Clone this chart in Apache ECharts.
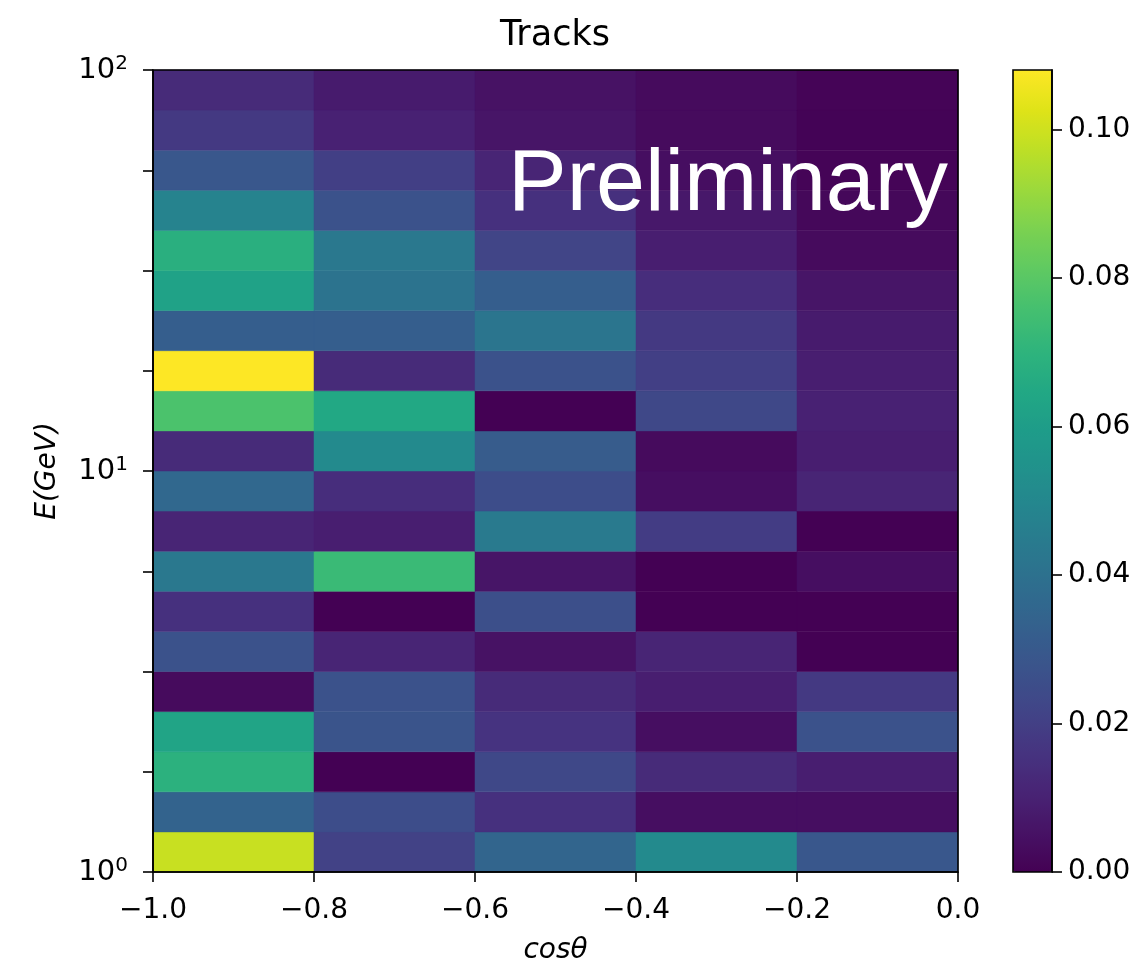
<!DOCTYPE html>
<html>
<head>
<meta charset="utf-8">
<title>Tracks</title>
<script src="https://cdn.jsdelivr.net/npm/echarts@6/dist/echarts.min.js"></script>
<style>
    html, body { margin: 0; padding: 0; background: #fff; }
    #chart { width: 1142px; height: 966px; }
</style>
</head>
<body>
<div id="chart"></div>
<script>
// bin edges
const cos_edges = [-1.0, -0.8, -0.6, -0.4, -0.2, 0.0]
const log_e_edges = [0.0, 0.1, 0.2, 0.3, 0.4, 0.5, 0.6, 0.7, 0.8, 0.9, 1.0,
                     1.1, 1.2, 1.3, 1.4, 1.5, 1.6, 1.7, 1.8, 1.9, 2.0]

// fraction per energy bin (low E -> high E), one array per cos(theta) bin
const frac_cos_m10 = [0.099, 0.034, 0.069, 0.063, 0.003, 0.027, 0.015, 0.043, 0.011, 0.036,
                      0.013, 0.077, 0.108, 0.032, 0.062, 0.068, 0.048, 0.029, 0.018, 0.013]
const frac_cos_m08 = [0.021, 0.025, 0.000, 0.028, 0.027, 0.011, 0.000, 0.073, 0.009, 0.014,
                      0.051, 0.065, 0.013, 0.032, 0.041, 0.043, 0.027, 0.020, 0.010, 0.008]
const frac_cos_m06 = [0.035, 0.015, 0.023, 0.016, 0.013, 0.005, 0.026, 0.006, 0.044, 0.025,
                      0.031, 0.000, 0.027, 0.042, 0.032, 0.022, 0.015, 0.011, 0.006, 0.005]
const frac_cos_m04 = [0.051, 0.004, 0.013, 0.004, 0.009, 0.011, 0.000, 0.000, 0.019, 0.004,
                      0.003, 0.023, 0.020, 0.018, 0.014, 0.009, 0.007, 0.004, 0.003, 0.003]
const frac_cos_m02 = [0.029, 0.004, 0.009, 0.027, 0.018, 0.000, 0.000, 0.004, 0.000, 0.011,
                      0.009, 0.010, 0.009, 0.008, 0.006, 0.003, 0.002, 0.001, 0.0005, 0.001]

const colorbar_ticks = [0.00, 0.02, 0.04, 0.06, 0.08, 0.10]
const colorbar_max = 0.108

const viridis = ['#440154', '#471365', '#482475', '#463480', '#414487', '#3b528b', '#355f8d',
                 '#2f6c8e', '#2a788e', '#25848e', '#21918c', '#1e9c89', '#22a884', '#2fb47c',
                 '#44bf70', '#5ec962', '#7ad151', '#9bd93c', '#bddf26', '#dfe318', '#fde725']

const columns = [frac_cos_m10, frac_cos_m08, frac_cos_m06, frac_cos_m04, frac_cos_m02]
let cells = []
for (let c = 0; c < columns.length; c++) {
    for (let r = 0; r < columns[c].length; r++) {
        cells.push([cos_edges[c], cos_edges[c + 1], log_e_edges[r], log_e_edges[r + 1], columns[c][r]])
    }
}

const font = '"DejaVu Sans"'
const minus = v => (v < -1e-9 ? '\u2212' : '') + Math.abs(v).toFixed(1)

const renderCell = (params, api) => {
    const p0 = api.coord([api.value(0), api.value(3)])
    const p1 = api.coord([api.value(1), api.value(2)])
    const color = api.visual('color')
    return {
        type: 'rect',
        shape: { x: p0[0], y: p0[1], width: p1[0] - p0[0], height: p1[1] - p0[1] },
        style: { fill: color, stroke: color, lineWidth: 0.5 }
    }
}

const chart = echarts.init(document.getElementById('chart'))
const option = {
    backgroundColor: '#fff',
    animation: false,
    textStyle: { fontFamily: font },
    grid: [
        { left: 153, top: 70, width: 805, height: 802, show: true, z: 10, outerBoundsMode: 'none',
          containLabel: false, borderColor: '#000', borderWidth: 1.6, backgroundColor: 'transparent' },
        { left: 1013, top: 70, width: 39, height: 802, show: true, z: 10, outerBoundsMode: 'none',
          containLabel: false, borderColor: '#000', borderWidth: 1.6, backgroundColor: 'transparent' }
    ],
    xAxis: [
        {
            type: 'value', gridIndex: 0, min: -1, max: 0, interval: 0.2, z: 10,
            name: 'cos\u03b8', nameLocation: 'middle', nameGap: 65,
            nameTextStyle: { fontSize: 28, fontStyle: 'italic', color: '#000', fontFamily: font },
            axisLine: { show: true, onZero: false, lineStyle: { color: '#000', width: 1.6 } },
            axisTick: { show: true, length: 10, lineStyle: { color: '#000', width: 1.6 } },
            axisLabel: { fontSize: 28, color: '#000', margin: 25, formatter: minus },
            splitLine: { show: false }
        },
        { type: 'value', gridIndex: 1, min: 0, max: 1, show: false }
    ],
    yAxis: [
        {
            type: 'value', gridIndex: 0, min: 0, max: 2, interval: 0.25, z: 10,
            name: 'E(GeV)', nameLocation: 'middle', nameGap: 91,
            nameTextStyle: { fontSize: 28, fontStyle: 'italic', color: '#000', fontFamily: font },
            axisLine: { show: true, onZero: false, lineStyle: { color: '#000', width: 1.6 } },
            axisTick: { show: true, length: 10, lineStyle: { color: '#000', width: 1.6 } },
            axisLabel: {
                margin: 25,
                formatter: v => Math.abs(v - Math.round(v)) < 1e-6 ? '{b|10}{s|' + Math.round(v) + '}' : '',
                rich: {
                    b: { fontSize: 29, lineHeight: 32, color: '#000', fontFamily: font },
                    s: { fontSize: 20, verticalAlign: 'top', color: '#000', fontFamily: font }
                }
            },
            splitLine: { show: false }
        },
        {
            type: 'value', gridIndex: 1, position: 'right', min: 0, max: colorbar_max, z: 10,
            axisLine: { show: true, onZero: false, lineStyle: { color: '#000', width: 1.6 } },
            axisTick: { show: true, length: 10, customValues: colorbar_ticks,
                        lineStyle: { color: '#000', width: 1.6 } },
            axisLabel: { fontSize: 28, color: '#000', margin: 16, customValues: colorbar_ticks,
                         formatter: v => v.toFixed(2) },
            splitLine: { show: false }
        }
    ],
    visualMap: {
        type: 'continuous', min: 0, max: colorbar_max, dimension: 4, seriesIndex: 0,
        calculable: false, hoverLink: false, orient: 'vertical', padding: 0,
        left: 1013, top: 70, itemWidth: 39, itemHeight: 802,
        inRange: { color: viridis }
    },
    graphic: [
        { type: 'text', x: 555, y: 36, z: 20,
          style: { text: 'Tracks', font: '35px ' + font, fill: '#000',
                   align: 'center', verticalAlign: 'middle', textAlign: 'center', textVerticalAlign: 'middle' } },
        { type: 'text', x: 508, y: 186, z: 20,
          style: { text: 'Preliminary', font: '88px "Liberation Sans"', fill: '#fff',
                   align: 'left', verticalAlign: 'middle', textAlign: 'left', textVerticalAlign: 'middle' } }
    ],
    series: [
        {
            type: 'custom',
            xAxisIndex: 0,
            yAxisIndex: 0,
            renderItem: renderCell,
            encode: { x: [0, 1], y: [2, 3] },
            data: cells
        }
    ]
}
chart.setOption(option)
</script>
</body>
</html>
